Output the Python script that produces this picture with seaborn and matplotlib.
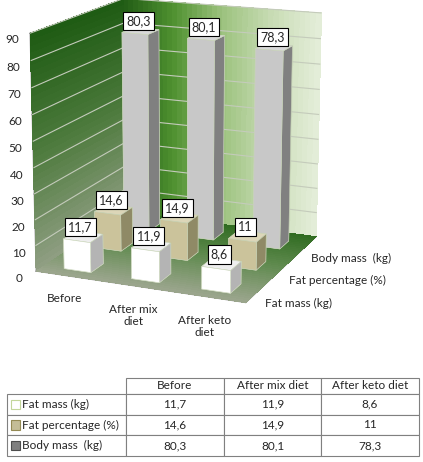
import numpy as np
import matplotlib
matplotlib.use("Agg")
import matplotlib.pyplot as plt
import seaborn as sns
from matplotlib.patches import Rectangle
from matplotlib.colors import LinearSegmentedColormap
from mpl_toolkits.mplot3d.art3d import Poly3DCollection

categories = ["Before", "After mix diet", "After keto diet"]
cat_labels = ["Before", "After mix\ndiet", "After keto\ndiet"]
series = ["Fat mass (kg)", "Fat percentage (%)", "Body mass  (kg)"]
fat_mass = [11.7, 11.9, 8.6]
fat_pct = [14.6, 14.9, 11.0]
body_mass = [80.3, 80.1, 78.3]
z_ticks = list(range(0, 100, 10))

sns.set_style("white")
plt.rcParams['font.family'] = ['Lato', 'DejaVu Sans']

def fmt(v):
    return f"{v:g}".replace('.', ',')

values = [fat_mass, fat_pct, body_mass]
# face colours: bottom, top, front(-y), back(+y), left(-x), right(+x)
face_styles = [
    ['#ffffff', '#eeeeee', '#ffffff', '#ffffff', '#ffffff', '#b4b4b4'],
    ['#c4bd97', '#dcd6b8', '#cbc39b', '#cbc39b', '#cbc39b', '#8f8a66'],
    ['#c6c6c6', '#d8d8d8', '#c8c8c8', '#c8c8c8', '#c8c8c8', '#808080'],
]

fig = plt.figure(figsize=(4.23, 4.62), dpi=100)
ax = fig.add_axes([-0.11, 0.27, 1.05, 0.83], projection='3d', computed_zorder=False)
ax.set_proj_type('persp', focal_length=0.75)
ax.view_init(elev=15, azim=-67)

n_cat, n_ser = len(categories), len(series)
ax.set_xlim(0, n_cat)
ax.set_ylim(0, n_ser)
ax.set_zlim(0, 90)
ax.set_box_aspect((1.0, 0.95, 1.08), zoom=0.98)

# ---- gradient walls and floor ----
wall_cmap = LinearSegmentedColormap.from_list(
    'wall', ['#245f17', '#4f9130', '#9cc27e', '#c8dcb4', '#e6efdc'])
side_cmap = LinearSegmentedColormap.from_list('side', ['#8f9e82', '#4c7a3c', '#1d5a12'])
floor_cmap = LinearSegmentedColormap.from_list('floor', ['#9aa58c', '#5f8a4e', '#2e6a1f'])
N = 40
X, Z = np.meshgrid(np.linspace(0, n_cat, N), np.linspace(0, 90, N))
ax.plot_surface(X, np.full_like(X, n_ser), Z, facecolors=wall_cmap(X / n_cat),
                shade=False, linewidth=0, antialiased=False, zorder=-3)
Y, Z = np.meshgrid(np.linspace(0, n_ser, N), np.linspace(0, 90, N))
ax.plot_surface(np.zeros_like(Y), Y, Z, facecolors=side_cmap(Z / 90),
                shade=False, linewidth=0, antialiased=False, zorder=-3)
X, Y = np.meshgrid(np.linspace(0, n_cat, N), np.linspace(0, n_ser, N))
ax.plot_surface(X, Y, np.zeros_like(X), facecolors=floor_cmap(Y / n_ser),
                shade=False, linewidth=0, antialiased=False, zorder=-3)

# gridlines on walls (drawn as degenerate polygons so they are not clipped)
segs = []
for t in z_ticks[1:]:
    segs.append([(0, n_ser, t), (n_cat, n_ser, t), (0, n_ser, t)])
    segs.append([(0, 0, t), (0, n_ser, t), (0, 0, t)])
grid = Poly3DCollection(segs, facecolors=(1, 1, 1, 0), edgecolors='#c4cbbb',
                        linewidths=0.8, zorder=-1)
ax.add_collection3d(grid)

dx, dy = 0.4, 0.4
xs, ys, hs, cols = [], [], [], []
for s_i, vals in enumerate(values):
    for c_i, v in enumerate(vals):
        xs.append(c_i + 0.3)
        ys.append(s_i + 0.25)
        hs.append(v)
        cols.extend(face_styles[s_i])
n = len(xs)
ax.bar3d(xs, ys, np.zeros(n), dx, dy, hs, color=cols, shade=False,
         edgecolor='#c8d4b8', linewidth=0.4, zorder=1)

for x, y, h in zip(xs, ys, hs):
    ax.text(x + dx / 2, y + dy * 0.3, h + 2, fmt(h), ha='center', va='bottom',
            fontsize=9, zorder=100,
            bbox=dict(boxstyle='square,pad=0.25', fc='white', ec='black', lw=0.8))

ax.set_xticks([0.5, 1.5, 2.5])
ax.set_xticklabels(cat_labels, fontsize=8.5)
ax.set_yticks([0.5, 1.5, 2.5])
ax.set_yticklabels(series, fontsize=8.5, ha='left')
ax.set_zticks(z_ticks)
ax.set_zticklabels([str(t) for t in z_ticks], fontsize=8.5)
ax.zaxis.set_ticks_position('lower')

for a in (ax.xaxis, ax.yaxis, ax.zaxis):
    a.set_pane_color((1, 1, 1, 0))
    a.pane.set_edgecolor((1, 1, 1, 0))
    a._axinfo['grid'].update(color=(1, 1, 1, 0), linewidth=0)
    a.line.set_color('#a0a0a0')
    a._axinfo['tick'].update(inward_factor=0, outward_factor=0.3)
    a.set_tick_params(pad=0)
ax.yaxis.set_tick_params(pad=-4)

# ---------- data table ----------
tax = fig.add_axes([7 / 423, 6 / 462, 412 / 423, 78 / 462])
tax.axis('off')
rows = [["", *categories]] + [[s, *[fmt(v) for v in vals]] for s, vals in zip(series, values)]
tbl = tax.table(cellText=rows, cellLoc='center', bbox=[0, 0, 1, 1],
                colWidths=[119 / 412, 98 / 412, 97 / 412, 98 / 412])
tbl.auto_set_font_size(False)
tbl.set_fontsize(8.5)
for (r, c), cell in tbl.get_celld().items():
    cell.set_edgecolor('#808080')
    cell.set_linewidth(0.8)
    cell.set_height(16 / 78 if r == 0 else 20.7 / 78)
    if c == 0:
        cell._loc = 'left'
        cell.PAD = 0.125
        cell.get_text().set_ha('left')
tbl[0, 0].visible_edges = ''
marker_fc = ['#ffffff', '#c4bd97', '#7f7f7f']
marker_ec = ['#c3d69b', '#948a54', '#4d4d4d']
fig.canvas.draw()
inv = tax.transAxes.inverted()
for i in range(3):
    cell = tbl[i + 1, 0]
    tb = cell.get_window_extent(fig.canvas.get_renderer())
    (x0, y0), (x1, y1) = inv.transform([[tb.x0, tb.y0], [tb.x1, tb.y1]])
    h = (y1 - y0)
    tax.add_patch(Rectangle((x0 + 0.009, y0 + h * 0.27), 0.022, h * 0.46,
                            transform=tax.transAxes, fc=marker_fc[i],
                            ec=marker_ec[i], lw=0.8, clip_on=False, zorder=10))

fig.savefig('out.png', dpi=100)
